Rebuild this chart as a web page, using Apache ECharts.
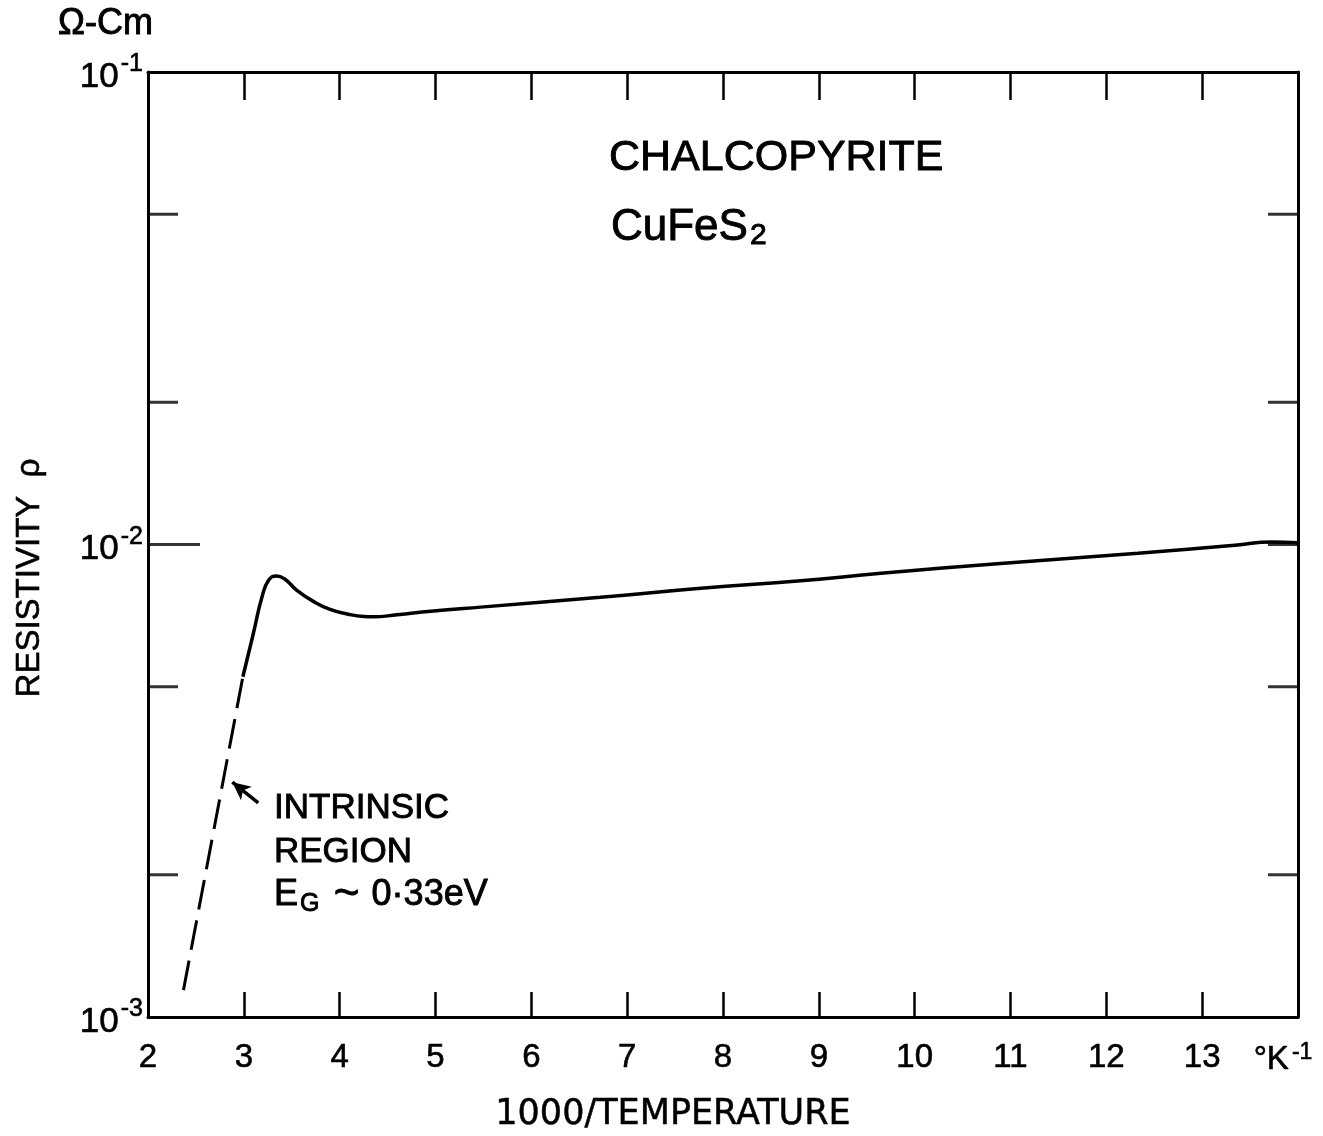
<!DOCTYPE html>
<html>
<head>
<meta charset="utf-8">
<title>Chalcopyrite resistivity</title>
<script src="https://cdn.jsdelivr.net/npm/echarts@6/dist/echarts.min.js"></script>
<style>
  html, body { margin: 0; padding: 0; background: #fff; }
  #chart { width: 1323px; height: 1136px; }
</style>
</head>
<body>
<div id="chart"></div>
<script>
// Resistivity of chalcopyrite (CuFeS2) against 1000/T
const invTempTicks = [2, 3, 4, 5, 6, 7, 8, 9, 10, 11, 12, 13, 14];

// measured curve (solid)
const solidInvT = [2.99, 3.10, 3.19, 3.26, 3.34, 3.43, 3.55, 3.73, 3.90, 4.08, 4.25, 4.35,
                   4.60, 4.95, 5.47, 6.72, 7.77, 8.81, 9.65, 10.93, 12.33, 13.37, 13.72, 14.0];
const solidRho  = [0.00525, 0.00649, 0.00775, 0.00841, 0.00858, 0.00844, 0.00801, 0.00757,
                   0.00729, 0.00713, 0.00704, 0.00703, 0.00710, 0.00722, 0.00737, 0.00773,
                   0.00808, 0.00838, 0.00869, 0.00913, 0.00958, 0.00998, 0.01012, 0.01009];

// extrapolated intrinsic region (dashed)
const dashInvT = [2.37, 2.99];
const dashRho  = [0.00114, 0.00525];

// arrow pointing at the intrinsic line
const arrowFrom = [3.15, 0.00284];
const arrowTo   = [2.88, 0.00314];

// intermediate resistivity ticks inside the frame
const rhoMinorTicks = [0.002, 0.005, 0.02, 0.05];
const rhoMajorTicks = [0.01];
const rhoRightTicks = [0.002, 0.005, 0.01, 0.02, 0.05];

const FONT = 'Liberation Sans';
const INK = '#000';
// slightly heavier lettering: label options stroke via textBorder*, graphic text via stroke/lineWidth
const LABEL_HEAVY = { textBorderColor: INK, textBorderWidth: 0.6 };
const HEAVY = { stroke: INK, lineWidth: 0.9 };

const zip = (xs, ys) => xs.map((x, i) => [x, ys[i]]);

const chart = echarts.init(document.getElementById('chart'), null, { renderer: 'canvas' });

const frameLine = { show: true, lineStyle: { color: INK, width: 3 } };

const option = {
  backgroundColor: '#fff',
  animation: false,
  textStyle: { fontFamily: FONT, color: INK },
  grid: { left: 148, right: 25, top: 72, bottom: 119, containLabel: false },
  xAxis: [
    {
      type: 'value', position: 'bottom', min: 2, max: 14, interval: 1,
      axisLine: frameLine,
      axisTick: { show: true, inside: true, length: 25, lineStyle: { color: INK, width: 2.5 } },
      splitLine: { show: false },
      axisLabel: {
        margin: 24, color: INK, fontFamily: FONT, fontSize: 33, ...LABEL_HEAVY,
        formatter: v => (v === 14 ? '{u|°K}{s|-1}' : String(v)),
        rich: {
          u: { fontSize: 33, fontFamily: FONT, color: INK, ...LABEL_HEAVY, padding: [0, 0, 0, 0] },
          s: { fontSize: 23, fontFamily: FONT, color: INK, ...LABEL_HEAVY, verticalAlign: 'top', padding: [0, 30, 14, 3] }
        }
      }
    },
    {
      type: 'value', position: 'top', min: 2, max: 14, interval: 1,
      axisLine: frameLine,
      axisTick: { show: true, inside: true, length: 28, lineStyle: { color: INK, width: 2.5 } },
      axisLabel: { show: false },
      splitLine: { show: false }
    }
  ],
  yAxis: [
    {
      type: 'log', logBase: 10, position: 'left', min: 0.001, max: 0.1,
      axisLine: frameLine,
      axisTick: { show: false },
      splitLine: { show: false },
      minorTick: { show: false },
      axisLabel: {
        margin: 5, color: INK,
        formatter: v => '{b|10}{s|-' + Math.round(-Math.log10(v)) + '}',
        rich: {
          b: { fontSize: 35, fontFamily: FONT, color: INK, ...LABEL_HEAVY, lineHeight: 40, padding: [10, 0, 0, 0] },
          s: { fontSize: 25, fontFamily: FONT, color: INK, ...LABEL_HEAVY, verticalAlign: 'top', padding: [0, 0, 10, 2] }
        }
      }
    },
    {
      type: 'log', logBase: 10, position: 'right', min: 0.001, max: 0.1,
      axisLine: frameLine,
      axisTick: { show: false },
      axisLabel: { show: false },
      splitLine: { show: false },
      minorTick: { show: false }
    }
  ],
  series: [
    {
      name: 'measured', type: 'line', xAxisIndex: 0, yAxisIndex: 0,
      data: zip(solidInvT, solidRho),
      smooth: 0.5,
      showSymbol: false, symbol: 'none',
      lineStyle: { color: INK, width: 3.5 },
      silent: true
    },
    {
      name: 'intrinsic', type: 'line', xAxisIndex: 0, yAxisIndex: 0,
      data: zip(dashInvT, dashRho),
      showSymbol: false, symbol: 'none',
      lineStyle: { color: INK, width: 3, type: [30, 11] },
      silent: true,
      markLine: {
        silent: true,
        symbol: ['none', 'arrow'],
        symbolSize: [13, 18],
        label: { show: false },
        lineStyle: { color: INK, width: 3.5, type: 'solid' },
        data: [[{ coord: arrowFrom }, { coord: arrowTo }]]
      }
    },
    {
      name: 'left minor ticks', type: 'scatter', xAxisIndex: 0, yAxisIndex: 0,
      data: rhoMinorTicks.map(v => [invTempTicks[0], v]),
      symbol: 'rect', symbolSize: [30, 3], symbolOffset: [15, 0],
      itemStyle: { color: INK }, clip: false, silent: true
    },
    {
      name: 'left major ticks', type: 'scatter', xAxisIndex: 0, yAxisIndex: 0,
      data: rhoMajorTicks.map(v => [invTempTicks[0], v]),
      symbol: 'rect', symbolSize: [52, 3], symbolOffset: [26, 0],
      itemStyle: { color: INK }, clip: false, silent: true
    },
    {
      name: 'right ticks', type: 'scatter', xAxisIndex: 0, yAxisIndex: 0,
      data: rhoRightTicks.map(v => [invTempTicks[invTempTicks.length - 1], v]),
      symbol: 'rect', symbolSize: [30, 3], symbolOffset: [-15, 0],
      itemStyle: { color: INK }, clip: false, silent: true
    }
  ],
  graphic: [
    {
      type: 'text', x: 58, y: 24,
      style: { text: 'Ω-Cm', fontFamily: FONT, fontSize: 36, fill: INK, ...HEAVY, textVerticalAlign: 'middle' }
    },
    {
      type: 'text', x: 609, y: 158,
      style: { text: 'CHALCOPYRITE', fontFamily: FONT, fontSize: 43, fill: INK, ...HEAVY, textVerticalAlign: 'middle' }
    },
    {
      type: 'text', x: 611, y: 228,
      style: {
        text: '{n|CuFeS}{d|2}', fill: INK, ...HEAVY, textVerticalAlign: 'middle',
        rich: {
          n: { fontFamily: FONT, fontSize: 44, fill: INK, ...HEAVY },
          d: { fontFamily: FONT, fontSize: 30, fill: INK, ...HEAVY, verticalAlign: 'bottom', padding: [16, 0, 0, 2] }
        }
      }
    },
    {
      type: 'text', x: 274, y: 808,
      style: { text: 'INTRINSIC', fontFamily: FONT, fontSize: 35, fill: INK, ...HEAVY, textVerticalAlign: 'middle' }
    },
    {
      type: 'text', x: 274, y: 852,
      style: { text: 'REGION', fontFamily: FONT, fontSize: 35, fill: INK, ...HEAVY, textVerticalAlign: 'middle' }
    },
    {
      type: 'text', x: 274, y: 895,
      style: {
        text: '{e|E}{g|G}{t| ~ }{e|0·33eV}', fill: INK, ...HEAVY, textVerticalAlign: 'middle',
        rich: {
          e: { fontFamily: FONT, fontSize: 36, fill: INK, ...HEAVY },
          g: { fontFamily: FONT, fontSize: 25, fill: INK, ...HEAVY, verticalAlign: 'bottom', padding: [16, 2, 0, 2] },
          t: { fontFamily: FONT, fontSize: 44, fill: INK, ...HEAVY }
        }
      }
    },
    {
      type: 'text', x: 30, y: 578, rotation: Math.PI / 2,
      style: {
        text: 'RESISTIVITY  ρ', fontFamily: FONT, fontSize: 33, fill: INK, stroke: INK, lineWidth: 0.6,
        textAlign: 'center', textVerticalAlign: 'middle'
      }
    },
    {
      type: 'text', x: 673, y: 1115,
      style: {
        text: '1000/TEMPERATURE', fontFamily: 'DejaVu Sans', fontSize: 35, fill: INK, stroke: INK, lineWidth: 0.5,
        textAlign: 'center', textVerticalAlign: 'middle'
      }
    }
  ]
};

chart.setOption(option);
</script>
</body>
</html>
